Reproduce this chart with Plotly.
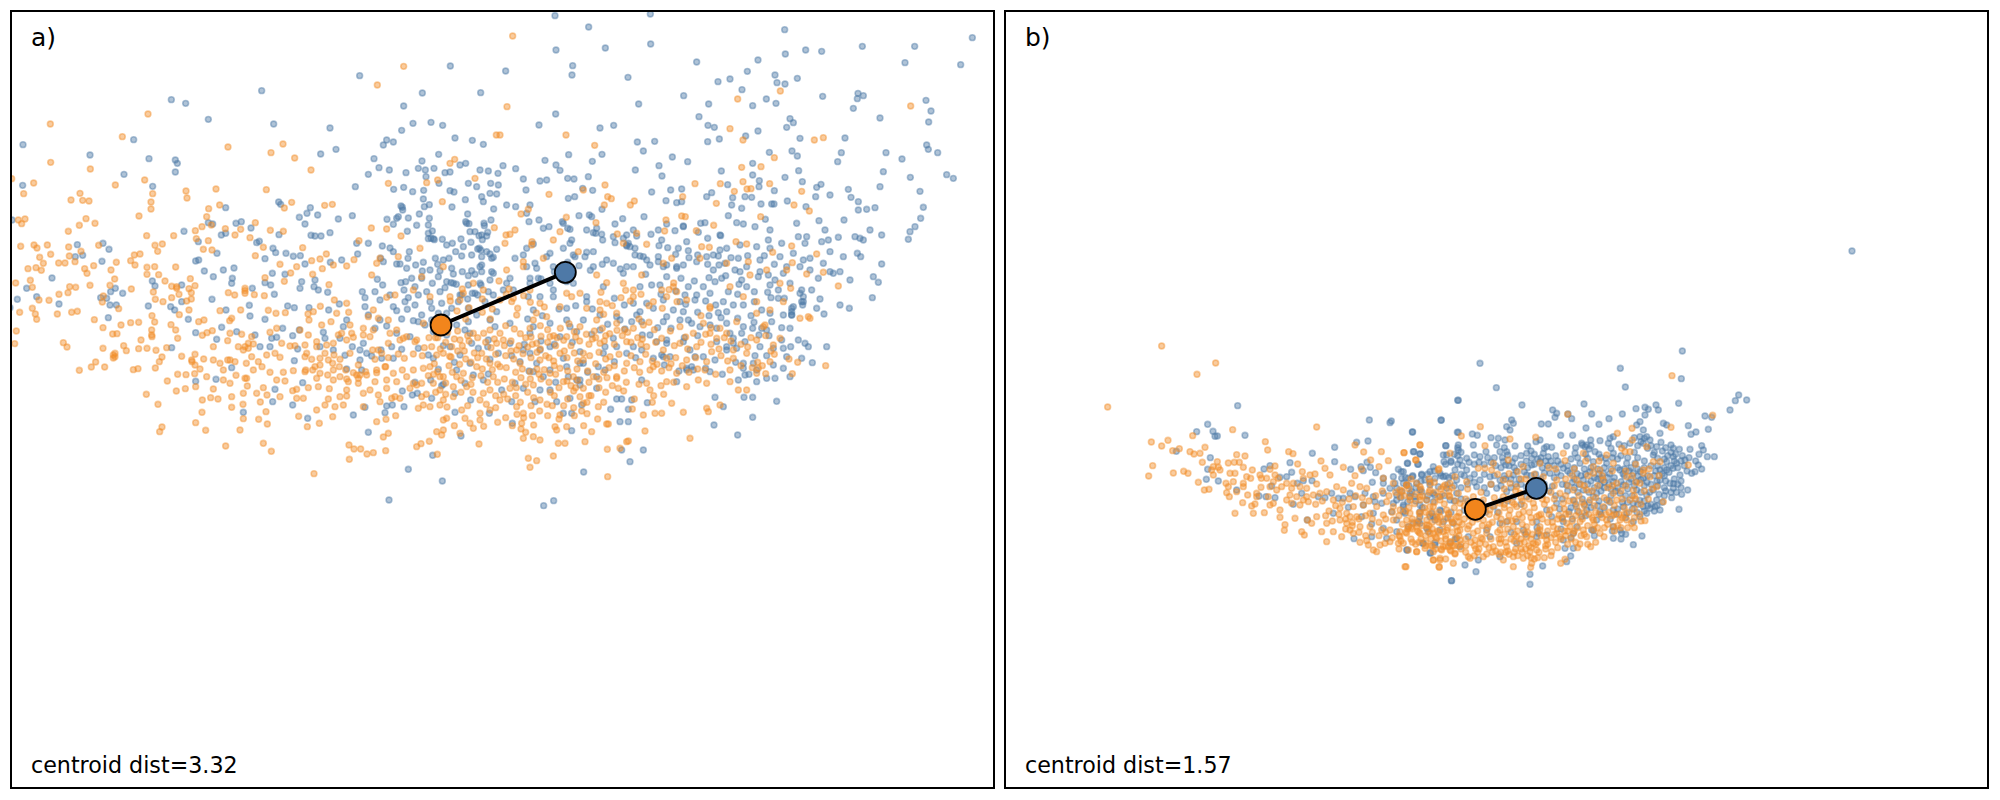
import plotly.graph_objects as go

panel_labels = ["a)", "b)"]
dist_labels = ["centroid dist=3.32", "centroid dist=1.57"]

a_orange = [(1211,199),(1132,255),(444,342),(151,372),(367,410),(684,441),(849,432),(813,458),(884,474),(933,510),(152,487),(271,507),(35,536),(101,549),(346,555),(434,540),(71,581),(240,580),(213,600),(248,601),(267,603),(458,581),(453,606),(453,627),(558,573),(561,594),(648,567),(799,569),(875,607),(853,624),(974,616),(997,613),(626,626),(659,615),(417,648),(258,656),(285,670),(238,676),(55,660),(75,657),(65,671),(205,694),(440,707),(521,707),(620,650),(606,680),(634,675),(586,692),(676,686),(722,688),(705,705),(766,668),(811,691),(850,694),(750,713),(589,716),(625,722),(610,748),(636,750),(62,739),(102,735),(111,744),(142,735),(206,741),(296,736),(465,736),(487,732),(473,754),(243,754),(152,763),(119,772),(130,790),(176,789),(195,789),(225,785),(208,768),(403,765),(420,762),(392,782),(405,795),(84,806),(108,803),(124,811),(254,806),(261,820),(281,797),(333,810),(349,787),(441,802),(464,800),(441,823),(527,801),(476,824),(495,843),(344,837),(330,856),(91,841),(47,849),(97,862),(209,860),(227,862),(270,856),(394,867),(515,859),(530,860),(571,836),(585,857),(567,866),(460,876),(537,883),(574,878),(177,883),(204,878),(117,900),(147,901),(310,888),(307,906),(466,898),(489,905),(515,893),(560,903),(574,897),(685,878),(704,885),(735,872),(763,884),(793,887),(840,793),(890,800),(908,743),(935,782),(960,777),(979,762),(967,806),(790,742),(766,767),(795,833),(853,844),(872,819),(938,823),(987,854),(1000,795),(1040,798),(1062,779),(1077,722),(1114,684),(1160,687),(1203,708),(1165,550),(1280,548),(1313,540),(1327,605),(1350,490),(1364,478),(1425,535),(1489,405),(1483,683),
(97,925),(106,942),(110,958),(59,937),(172,942),(215,937),(232,934),(283,959),(356,926),(456,947),(464,966),(538,944),(567,930),(612,960),(596,965),(660,932),(722,930),(695,955),(689,962),(805,931),(828,940),(856,938),(924,942),(927,960),(961,919),(1003,900),(1040,910),(1046,937),(1010,940),(1120,930),(1160,892),(1185,885),(49,993),(44,1031),(309,983),(363,975),(392,968),(416,967),(338,1002),(351,1001),(455,990),(456,1010),(513,974),(527,990),(533,1015),(607,1006),(621,998),(637,992),(690,1000),(725,1003),(755,1010),(830,985),(810,997),(900,990),(925,1005),(965,975),(993,965),(1050,975),(1090,985),(1135,955),(1190,990),(1210,1015),(1245,1025),
(190,1028),(201,1041),(309,1045),(371,1037),(379,1052),(423,1020),(416,1046),(441,1045),(468,1051),(500,1043),(345,1060),(340,1074),(287,1086),(274,1101),(314,1101),(238,1111),(400,1109),(414,1106),(466,1104),(486,1071),(478,1085),(545,1069),(585,1063),(576,1085),(611,1077),(600,1107),(584,1121),(533,1123),(558,1124),(502,1143),(529,1173),(556,1166),(587,1160),(439,1183),(474,1213),(607,1200),(640,1167),(654,1197),(632,1193),(587,1268),(617,1291),(606,1237),(479,1295),(486,1281),(695,1222),(729,1213),(730,1256),(720,1290),(677,1338),(790,1330),(814,1354),(942,1421),(1048,1378),(1047,1335),(1062,1347),(1082,1347),(1101,1362),(1120,1358),(1157,1352),(1250,1340),(1263,1331),(1288,1324),(1312,1363),(1158,1258),(1130,1265),(1165,1300),(1150,1311),(1187,1247),(1005,1220),(998,1250),(958,1270),(922,1280),(896,1249),(802,1272),(776,1258),(798,1235),(781,1206),(801,1185),(790,1163),(810,1117),(786,1100),(760,1110),(739,1090),(683,1022),(640,1040),(715,1040),(745,1045),(760,1032),(683,1080),(705,1085),(670,1110),(708,1126),(735,1135),(742,1158),(730,1180),(695,1190),(670,1140),(840,1072),(800,1065),(755,1070),(845,1030),(870,1038),(850,1117),(880,1112),(917,1110),(938,1110),(950,1135),(830,1140),(855,1143),(890,1168),(878,1172),(925,1163),(890,1195),(975,1215),(985,1197),(1020,1190),(1040,1188),(988,1166),(1000,1140),(1045,1145),(1040,1170),(1075,1150),(1090,1180),(1125,1145),(1100,1125),(1080,1125),(1130,1110),(1155,1100),(1180,1120),(1207,1110),(1190,1145),(1135,1185),(1140,1205),(1175,1195),(915,1070),(935,1078),(960,1075),(985,1080),(1020,1078),(1050,1060),(1075,1095),(960,1095),(960,1120),(920,1060),(950,1040),(1000,1030),(1040,1020),(1060,1012),(1110,1010),(1165,1030),(1145,1060),(1118,1050),(1213,1075),(1240,1110),(1270,1105),(1290,1100),(1330,1130),(1370,1130),(1390,1120),(1430,1100),(1470,1090),(1450,1180),(1470,1170),(1440,1200),(1440,1240),(1470,1230),(1410,1270),(1420,1285),(1380,1300),(1437,1332),(1330,1290),(1325,1305),(1310,1295),(1330,1260),(1340,1255),(1290,1220),(1270,1215),(1255,1225),(1330,1200),(1360,1190),(1385,1230),(1360,1160),(1320,1170),(1300,1150),(1265,1150),(1240,1150),(1320,1130),(1400,1160),(1480,1130),(1500,1100),(1295,1040),(1310,1065),(1330,1060),(1355,1040),(1380,1020),(1420,1000),(1445,1060),(1470,990),(1490,1030),(1270,970),(1250,1020),(1200,1020),(1220,1010),(1380,900),(1350,890),(1390,880),(1420,850),(1450,870),(1265,830),(1240,870),(1290,890),(1330,800),(1260,745),(1195,770),(1140,775),(1130,790),(1115,825),
(1538,108),(1521,320),(1698,405),(1784,436),(1500,405),(2213,297),(2341,273),(2190,386),(2229,420),(2443,420),(2470,413),(2732,318),(2323,473),(2225,502),(2283,500),(2085,551),(2161,551),(2229,545),(2309,551),(2241,567),(2253,566),(2405,574),(2203,574),(1815,555),(1750,570),(1647,583),(1823,590),(1834,596),(2048,590),(1813,615),(1891,615),(1903,603),(2149,610),(1563,642),(1585,628),(2382,615),(2428,633),(1699,652),(1788,668),(1998,660),(2045,648),(2056,650),(2282,650),(2141,676),(2089,692),(1994,693),(1910,700),(1852,702),(1680,695),(1545,690),(1530,703),(1518,705),(1660,720),(1596,725),(1595,735),(1515,730),(1870,730),(1940,733),(2105,740),(2128,742),(2208,725),(2240,732),(2375,738),(2318,757),(2450,762),(2377,788),(2245,785),(2180,790),(2100,775),(2015,775),(1990,790),(1735,755),(1630,775),(1570,785),(1570,800),(1520,810),(1790,825),(1820,848),(1870,850),(1900,870),(1925,825),(2020,860),(1985,870),(2360,810),(2420,822),(2470,817),(2515,858),(2250,825),(2300,810),(2190,860),(2230,890),(2270,905),(2340,850),(2372,865),(2350,905),(1700,880),(1715,890),(1740,880),(1800,905),(1820,910),(1900,890),(1960,905),(2000,890),(2030,875),(1590,870),(1500,900),(1540,895),(1535,905),(1620,910),(1680,920),(1760,925),(1800,930),(1850,940),(2060,900),(2130,920),(2130,925),(2270,940),(2310,930),(2400,955),(2430,955),(2425,950),(2110,970),(2160,985),(2210,965),(2290,980),(2295,975),(2150,1015),(2180,1000),(1550,945),(1600,960),(1640,950),(1590,985),(1650,1010),(1700,1010),(1740,980),(1790,960),(1850,970),(1900,985),(1930,975),(1985,1015),(2040,980),(2080,1000),(2130,1000),(1500,1000),(1510,1020),(1550,1050),(1610,1030),(1680,1060),(1750,1060),(1800,1030),(1880,1025),(1940,1040),(1990,1050),(2040,1030),(2090,1040),(2135,1055),(2200,1050),(2270,1020),(2320,1035),(2340,1015),(1560,1090),(1620,1080),(1680,1105),(1750,1080),(1830,1070),(1880,1090),(1920,1085),(2000,1075),(2060,1080),(2120,1085),(2200,1075),(2240,1060),(2310,1085),(1590,1115),(1650,1120),(1720,1130),(1780,1130),(1850,1130),(1950,1110),(1960,1100),(2030,1120),(2115,1110),(2190,1110),(2190,1145),(2270,1120),(2275,1105),(1530,1165),(1600,1155),(1690,1145),(1750,1165),(1850,1135),(1855,1165),(1940,1150),(1950,1170),(2060,1160),(2120,1150),(2095,1140),(2000,1145),(2215,1170),(2240,1170),(1500,1200),(1550,1220),(1570,1240),(1620,1200),(1680,1245),(1750,1210),(1740,1190),(1795,1220),(1930,1245),(1965,1240),(1985,1240),(2015,1210),(2050,1237),(2125,1235),(2160,1215),(2120,1225),(1565,1270),(1670,1290),(1665,1280),(1700,1280),(1775,1295),(1820,1272),(1825,1272),(1935,1293),(1570,1315),(1600,1310),(1620,1320),(1675,1330),(1695,1330),(1755,1325),(1880,1325),(2070,1315),(1822,1348),(1860,1345),(1885,1323),(1585,1375),(1610,1382),(1660,1368),(1590,1402),(1823,1430)]

a_orange_core = [(1307,1013),(1337,1027),(1363,1017),(1387,1037),(1407,1023),(1433,1013),(1457,1027),(1483,1017),(1273,1043),(1321,1047),(1349,1069),(1373,1053),(1397,1077),(1423,1059),(1459,1077),(1487,1063),(1267,1067),(1303,1091),(1347,1097),(1379,1093),(1413,1087),(1447,1107),(1477,1109),(1285,1127),(1313,1115),(1357,1117),(1383,1141),(1417,1133),(1443,1127),(1463,1147),(1493,1147),(1279,1183),(1307,1177),(1337,1183),(1383,1177),(1419,1177),(1487,1187),(1341,1221),(1403,1217),(1459,1213),(1487,1223),(1493,1267),(1451,1279),(1363,1277),
(1513,1037),(1533,1023),(1557,1037),(1577,1013),(1597,1033),(1623,1009),(1643,1027),(1667,1037),(1691,1021),(1713,1037),(1739,1023),(1767,1033),(1787,1013),(1813,1023),(1843,1033),(1867,1007),(1893,1027),(1913,1013),(1517,1067),(1541,1077),(1569,1061),(1593,1073),(1611,1057),(1637,1067),(1661,1083),(1701,1073),(1723,1059),(1769,1067),(1797,1057),(1817,1077),(1857,1063),(1893,1067),(1937,1063),(1971,1093),(2013,1091),(2047,1097),(2087,1073),(1519,1103),(1547,1117),(1567,1107),(1611,1107),(1633,1109),(1663,1097),(1703,1113),(1731,1107),(1763,1113),(1811,1117),(1827,1103),(1873,1113),(1919,1117),(1985,1113),(2007,1103),(2067,1117),(2093,1107),(2147,1123),(1513,1137),(1537,1147),(1563,1133),(1577,1153),(1623,1137),(1647,1147),(1667,1123),(1713,1157),(1733,1141),(1767,1147),(1797,1137),(1837,1157),(1879,1147),(1917,1153),(1983,1157),(2021,1147),(1511,1183),(1547,1187),(1583,1177),(1601,1193),(1651,1177),(1663,1187),(1703,1197),(1721,1173),(1761,1207),(1773,1187),(1817,1177),(1871,1173),(1903,1197),(1961,1187),(1991,1183),(1551,1243),(1571,1253),(1597,1247),(1641,1213),(1657,1217),(1721,1223),(1745,1233),(1761,1241),(1793,1257),(1677,1257),(1563,1287),(1577,1297),
(1517,977),(1543,987),(1561,1001),(1593,1011),(1621,977),(1643,989),(1661,1007),(1681,985),(1707,971),(1723,995),(1759,1003),(1783,993),(1807,985),(1829,1001),(1851,991),(1873,989),(1917,957),(1947,967),(1963,989),(2011,993),(2057,1011),(1811,943),(1837,917),(1863,893),(1877,871),(1891,903),(1803,877),(2007,869),(2021,849),(1923,883),(1947,917),(1987,925),(2031,905),(2103,947),(2133,983),(2193,1023),(2243,1041),(2273,1087),(2297,1121),(2323,1063),(2377,1121),(2477,1097),(1553,925),(1571,887),(1591,907),(1609,939),(1633,921),(1527,867),(1497,843),(1519,883),(1471,957),(1447,937),(1397,957),(1371,933),(1407,923),(1351,903),(1387,867),(1447,897),(1477,927),
(1002,1065),(1037,1110),(1070,1125),(1097,1115),(1130,1118),(1157,1100),(1040,1137),(1075,1135),(1018,1100),(998,1090),(1160,1140),(1185,1190),(1250,1155),(1220,1130),(950,1025),(980,1035),(1015,1005),(1055,1000),(1090,1005),(1105,950),(1165,960),(940,935),(1025,1000),(1135,1050),(975,1060),(945,1100),(915,1115),(735,1040),(745,1030),(730,1050),(740,1135),(690,1080),(575,1080),(585,1095),(530,865),(735,880),(735,865),(345,1070),(340,1065),(455,1005),
(2133,1033),(2157,1047),(2173,1013),(2223,1033),(2253,1013),(2297,1007),(2313,1053),(2367,1077),(2393,1087),(2163,1067),(2183,1083),(2223,1097),(2257,1103),(2287,1097),(2103,1027),(2117,1003),(2063,1047),(2023,1037),(1967,1027),(1927,1017),(1923,1033),(1883,997),(1817,1007),(1777,1017),(1727,1011),(1671,1013),(1621,1047),(1583,1041),(1533,1053),(1647,1073),(1693,1053),(1733,1083),(1787,1091),(1843,1097),(1903,1103),(1957,1083),(2027,1073),(1591,1137),(1617,1123),(1701,1143),(1677,1163),(1727,1163),(1797,1163),(1821,1133),(1767,1187),(1691,1217),(1619,1233),(1593,1217),(1549,1163),(1561,1207),(1523,1197),(1517,1253),(1537,1277),(1601,1275),(1643,1247),(1723,1247),(1751,1277),(1811,1207),(1897,1227),(1957,1207),
(1313,1013),(1343,997),(1373,993),(1403,1007),(1451,1000),(1301,1123),(1337,1149),(1413,1153),(1493,1093),(1353,1071),(1433,1073),(1473,1043),(1393,1053),(1287,1013),(1240,1062),(1195,1062),(1165,1073),(1125,1078),(1060,1118),(1020,1130),(1000,1110),(983,1125),(955,1160),(1110,1170),(1160,1165),(1230,1165),(1120,990),(1170,1000),(915,1035),(885,1037),(825,1060),(775,1085),(660,1090),(640,1080),(620,1130),(690,1150),(770,1180),(840,1190),(910,1195),(950,1230),(1030,1215),(1090,1220),(1200,1195),(1265,1190),(1320,1215),(1395,1255),(1440,1260)]

a_blue = [(1079,227),(1351,198),(785,272),(1267,279),(1442,278),(514,299),(557,310),(1211,318),(625,358),(821,372),(1239,370),(1293,367),(1328,376),(990,384),(1205,391),(401,419),(1365,414),(1417,421),(1450,433),(1160,420),(1180,426),(1150,435),(69,434),(270,465),(447,476),(526,480),(532,490),(962,462),(1008,448),(1122,476),(1266,483),(1316,463),(1137,503),(1105,523),(526,516),(372,523),(1168,510),(1218,518),(1255,505),(1276,510),(1302,505),(1335,518),(1350,516),(1380,495),(1397,490),(1440,510),(1465,513),(1494,520),(1278,530),(1405,550),(68,556),(458,559),(1066,560),(1181,568),(1211,562),(1238,575),(1271,571),(1317,550),(1472,550),(1350,572),(1362,576),(1430,560),(1495,555),(1270,597),(1288,614),(1273,620),(1396,599),(1445,590),(1470,580),(1490,582),(836,606),(842,613),(677,623),(931,623),(1203,618),(1208,630),(1356,621),(1450,605),(1481,627),(898,652),(921,640),(953,645),(1015,657),(1057,647),(1161,658),(1190,655),(1225,654),(1258,642),(1288,655),(1403,642),(625,668),(638,672),(708,670),(724,665),(915,672),(1250,676),(1285,675),(1400,670),(1452,670),(1473,660),(36,660),(753,684),(552,694),(677,700),(664,705),(837,704),(933,706),(945,708),(963,708),(990,698),(1180,673),(1222,694),(1297,693),(1410,695),(1425,695),(1445,705),(1460,708),(595,725),(770,728),(778,724),(309,730),(232,734),(1285,716),(1300,716),(1327,718),(1340,735),(1357,730),(1070,730),(1105,730),(1147,738),(1170,744),(1180,755),(1228,755),(1390,740),(1438,745),(1460,755),(1490,748),(327,748),(819,745),(827,758),(858,760),(880,769),(901,767),(651,760),(596,780),(587,783),(248,766),(226,770),(306,784),(795,776),(1025,780),(1073,762),(1224,775),(1142,775),(1150,785),(1190,792),(1200,792),(1270,787),(1306,775),(1330,780),(1385,768),(1415,765),(1445,770),(1470,762),(1480,772),(915,792),(991,787),(613,813),(670,810),(702,804),(817,820),(855,823),(1220,805),(1290,810),(1320,812),(1360,822),(1440,800),(1480,820),(1445,815),(156,834),(640,830),(697,835),(695,850),(457,843),(465,858),(545,855),(795,848),(812,855),(905,845),(945,840),(942,860),(1132,838),(1148,855),(1203,848),(1217,845),(1297,850),(1340,845),(1360,850),(1405,855),(1440,850),(1470,840),(80,865),(346,865),(332,875),(368,880),(757,865),(900,865),(955,870),(983,877),(1087,875),(1212,870),(1320,875),(1380,885),(1425,880),(1280,875),(110,890),(52,898),(302,893),(320,895),(636,898),(545,905),(823,883),(1095,893),(1140,900),(1225,893),(1245,915),(1290,905),(1325,910),(1355,925),(177,912),(445,918),(330,915),(349,915),(512,920),(524,930),(748,916),(863,918),(883,923),(927,923),(1018,912),(1180,920),(1190,932),(1222,928),(1295,925),(1315,940),(30,923),(678,930),(986,930),(1105,945),(1140,960),(750,948),(325,953),(565,958),(795,958),(1040,960),(1160,978),(1205,957),(1240,962),(1255,965),(1275,975),(665,982),(587,998),(848,985),(710,995),(898,990),(970,997),(1030,980),(1125,985),(1190,1000),(1300,995),(1340,1005),(1410,1000),(1485,980),(650,1018),(765,1005),(815,1015),(830,1012),(878,1007),(975,1015),(1020,1015),(1090,1030),(1415,1030),(893,1047),(810,1040),(780,1040),(515,1043),(1035,1066),(1080,1050),(1115,1068),(1143,1050),(1145,1075),(1205,1048),(1180,1075),(1435,1045),(1463,1040),(883,1082),(695,1103),(1040,1107),(1080,1080),(1085,1110),(1315,1108),(1300,1075),(1470,1078),(1420,1125),(1465,1122),(648,1138),(587,1144),(908,1148),(1245,1147),(1292,1140),(1325,1157),(825,1168),(1207,1173),(1237,1185),(1252,1180),(1295,1195),(1365,1180),(1412,1200),(818,1205),(878,1215),(1160,1218),(1177,1215),(1212,1220),(1095,1222),(730,1237),(923,1255),(1060,1245),(1155,1238),(1365,1237),(1468,1240),(1105,1297),(1383,1308),(1298,1366),(1225,1408),(1327,1443),(1167,1500),
(1665,47),(1951,42),(1766,81),(2354,89),(1668,150),(1816,144),(1952,132),(2356,162),(2417,150),(2465,154),(2587,139),(2744,139),(2917,113),(2274,180),(2090,186),(1718,197),(1517,213),(1716,225),(1884,232),(2242,214),(2325,225),(2154,245),(2190,237),(2331,248),(2355,252),(2392,235),(2715,188),(2882,194),(2226,269),(2051,287),(2468,289),(2574,280),(2590,287),(2572,296),(2778,301),(2299,297),(1916,312),(2126,312),(2258,317),(2328,310),(2560,325),(2793,333),(1667,342),(2097,350),(2640,354),(2786,366),(2370,356),(2380,368),(2360,382),(1617,375),(1800,384),(1841,376),(2124,376),(2143,382),(2274,393),(2237,408),(2400,415),(2535,414),(1912,426),(1964,424),(2158,417),(2123,425),(1930,453),(1706,464),(1806,463),(2780,435),(2785,448),(2813,458),(2658,458),(2524,458),(2017,471),(2063,485),(1635,481),(1777,484),(2308,457),(2376,453),(2392,468),(2706,477),(1509,497),(1547,506),(1668,495),(1680,511),(1906,510),(1977,497),(2164,513),(2258,490),(2513,485),(2650,515),(2258,525),(2396,512),(2731,532),(1986,528),(2278,542),(1570,537),(1620,543),(1640,540),(1703,535),(1722,537),(1765,530),(2355,532),(2407,545),(2463,553),(2840,524),(2860,535),(1578,570),(2183,554),(2277,560),(2450,562),(1748,565),(1778,571),(1955,576),(2012,570),(2323,572),(2545,568),(2640,560),(1705,595),(1724,590),(2045,567),(2760,574),(2490,585),(1998,602),(2030,608),(2045,605),(2120,590),(2135,578),(2198,593),(2235,590),(2255,592),(2283,612),(2362,603),(2447,590),(2553,592),(2575,605),(2600,628),(1520,615),(1547,620),(1590,615),(2225,625),(2195,615),(2322,612),(2418,620),(2770,622),(2315,612),(1806,628),(1768,645),(2625,623),(2575,630),(1687,665),(1737,647),(1775,650),(1868,656),(1932,650),(2000,672),(2115,668),(2185,647),(2296,658),(2457,662),(2532,660),(2762,655),(2050,678),(2102,670),(2210,668),(2230,672),(2390,670),(1630,685),(1703,685),(1790,685),(1845,672),(1900,690),(1975,690),(2025,692),(2050,680),(2095,697),(2160,705),(2265,680),(2310,690),(2475,690),(2610,690),(2645,705),(2745,680),(2730,695),(1780,698),(1880,705),(1985,720),(2123,715),(2162,707),(2305,720),(2420,710),(2395,710),(2515,712),(2725,718),(1580,745),(1600,732),(1710,730),(1808,720),(1845,728),(1880,738),(2060,725),(2415,730),(2465,725),(2485,720),(2565,710),(2580,715),(2590,720),(1890,740),(2345,730),(1650,760),(1760,757),(1905,745),(2035,745),(2065,752),(2140,765),(2180,745),(2220,735),(2270,740),(2310,745),(2490,755),(2572,760),(2582,770),(1570,765),(1640,770),(1720,765),(1930,770),(1975,770),(2120,770),(2155,768),(2410,780),(2430,775),(1610,805),(1680,815),(2000,795),(2530,770),(2470,790),(2645,792),(1780,800),(2220,815),(2360,800),(2090,785),(2140,810),(2030,800),(2500,820),(2520,815),(2620,830),(2635,847),(1530,835),(1590,835),(1870,820),(2205,810),(2165,835),(2280,815),(2455,835),(2490,815),(2550,840),(1920,860),(1980,855),(2130,880),(2000,830),(2065,860),(2240,860),(2310,855),(2370,850),(2405,870),(2435,870),(2460,897),(2617,893),(1720,850),(1650,850),(1510,870),(1585,890),(1660,890),(1900,910),(1990,900),(2040,905),(2090,885),(2170,905),(2200,915),(2335,895),(2408,915),(2520,915),(2548,925),(2450,925),(2472,942),(2410,905),(2380,920),(2350,945),(2230,915),(2180,935),(2155,938),(1600,930),(1700,925),(1760,905),(1800,945),(1920,935),(2050,935),(2040,960),(2285,930),(2310,940),(2375,945),(2370,985),(2262,967),(2180,970),(2230,980),(2315,965),(1530,970),(1710,980),(1850,950),(1925,965),(1990,965),(2065,960),(2130,975),(2258,985),(2300,990),(2345,1020),(2395,1020),(2415,1030),(2425,1040),(2480,1040),(2372,1040),(2350,1045),(1590,1000),(1680,1010),(1730,995),(1840,1015),(1950,1005),(2000,1020),(2050,1025),(2150,1025),(2200,1015),(2235,1025),(2320,1045),(2405,1075),(2437,1088),(2360,1070),(2300,1067),(2265,1067),(1620,1050),(1740,1055),(1815,1040),(1880,1060),(1990,1070),(2070,1050),(2180,1050),(2210,1045),(2280,1040),(2230,1090),(2260,1090),(1560,1085),(1690,1075),(1740,1090),(1795,1100),(1960,1075),(2130,1115),(2060,1105),(2230,1105),(2320,1095),(2350,1105),(2370,1130),(2325,1135),(2300,1135),(2270,1110),(2270,1145),(1630,1130),(1705,1130),(1740,1140),(1925,1140),(2030,1145),(2080,1110),(2235,1125),(2215,1140),(1570,1165),(1650,1170),(1790,1165),(1850,1197),(1865,1197),(1895,1200),(2145,1192),(2232,1192),(2258,1192),(2330,1204),(1605,1205),(1670,1205),(1942,1208),(2170,1220),(2258,1252),(1832,1228),(1885,1228),(1537,1270),(1860,1265),(1885,1265),(2142,1275),(2213,1305),(1715,1240),(1715,1292),(1865,1350),(1930,1350),(1890,1385),(1751,1416),(1661,1502),(1631,1517)]

a_blue_core = [(1453,677),(1437,707),(1463,697),(1447,719),(1397,665),(1407,671),(1433,747),(1443,751),(1207,622),(1195,650),(1285,700),(1293,715),(1303,719),(1415,812),(1445,795),(1475,815),(1475,775),(1353,848),(1369,853),(1417,880),(1433,885),(1385,885),(1425,823),(1405,827),(1315,830),(1235,835),(1265,835),(1245,860),(1215,905),(1255,885),(1265,945),(1295,960),(1340,940),(1405,925),(1455,905),(1480,885),(1430,945),(1470,960),(1490,935),(1370,975),(1395,990),(1350,1040),(1380,1065),(1465,1020),(1495,1060),(1410,1090),(1450,1140),(1370,1110),
(1580,640),(1587,665),(1617,660),(1647,680),(1690,670),(1710,688),(1760,690),(1787,700),(1805,703),(1840,710),(1870,715),(1885,730),(1910,708),(1880,735),(1905,765),(1920,768),(1940,780),(1975,785),(1950,795),(1990,800),(2030,805),(2050,795),(2160,750),(2175,790),(2215,775),(2240,800),(2280,780),(2340,770),(2380,760),(2350,820),(2325,840),(2335,870),(2400,800),(2430,810),(2400,880),(2405,905),(2410,890),(2375,925),(2375,945),(2375,935),(2305,825),(2275,830),(2225,840),(2145,845),(2185,875),(2110,860),(2085,900),(2055,885),(2020,930),(2000,950),(1960,925),(1940,910),(1910,945),(1895,965),(2075,970),(2100,980),(2150,985),(2190,1000),(2225,1000),(2285,985),(2180,1040),(2200,1030),(2145,1080),(2110,1070),(2085,1070),(2010,1070),(1985,1065),(2060,1110),(2075,1100),(2000,1030),(1970,1025),(1925,1050),(1900,1040),(1850,1040),(1810,1060),(1750,1090),(1700,1100),(1650,1110),(1610,1090),(1570,1050),(1530,1030),(1590,1060),(1650,1040),(1600,980),(1650,970),(1700,960),(1750,960),(1800,990),(1860,960),(1620,890),(1660,870),(1700,845),(1760,890),(1810,860),(1520,850),(1540,870),(1590,850),(1615,835),(1580,800),(1605,790),(1545,775),(1660,800),(1690,745),(1715,720),(1725,770),(1755,770),(1780,755),(1820,780),(1840,790),(1880,800),(1900,800),(1730,1140),(1740,1155),(1710,1195),(1745,1215),(1690,1240),(1600,1115),(1545,1150),(1505,1170),(1535,1205),(1620,1170),(1790,1130),(1815,1110),
(1953,703),(1977,737),(2003,743),(2027,763),(2067,773),(2093,765),(2123,793),(2157,795),(2193,773),(2243,767),(2293,767),(2323,793),(2303,877),(2263,875),(2213,883),(2147,915),(2117,903),(2093,937),(2057,913),(2027,873),(1983,883),(1955,855),(1937,823),(2043,835),(2083,843),(2127,833),(2177,827),(2217,853),(2263,905),(2313,893),(2353,895),(2345,983),(2307,1007),(2277,1005),(2253,947),(2213,955),(2163,953),(2127,947),(2093,1007),(2053,1013),(2013,985),(1973,983),(1927,1005),(1875,987),(1823,973),(1775,1003),(1717,1027),(1663,1033),(1623,1023),(1573,1033),(1535,1067),(1587,1113),(1667,1147),(1763,1117),(1843,1085),(1907,1073),(1993,1095),(2037,1113),(2117,1105),(2167,1123),(2207,1087),(2247,1123),(1583,957),(1627,947),(1677,927),(1727,917),(1777,927),(1843,895),(1873,915),(1623,837),(1663,815),(1703,787),(1737,797),(1771,811),(1807,793),(1861,807),
(1383,717),(1413,727),(1367,755),(1347,775),(1313,793),(1267,813),(1247,795),(1387,815),(1355,805),(1335,863),(1375,905),(1403,897),(1443,855),(1465,875),(1405,965),(1310,1000),(1330,1037),(1363,1087),(1330,1153),(1395,1150),(1285,1065),(1255,1045),(1230,1010),(1175,1040),(1100,1060),(1057,1040),(1000,1050),(960,1040),(1095,920),(1125,875),(1170,885)]

b_orange_left = [(185,348),(347,399),(291,433),(23,531),(650,591),(398,599),(278,617),(154,636),(185,648),(204,631),(218,662),(238,656),(270,665),(282,672),(300,670),(315,652),(496,635),(503,660),(566,665),(579,671),(765,645),(791,666),(844,665),(912,668),(960,645),(158,707),(146,738),(220,729),(251,724),(264,730),(307,697),(295,757),(313,780),(327,778),(340,735),(340,710),(352,695),(355,712),(385,699),(403,697),(418,697),(410,674),(435,678),(390,730),(405,730),(430,712),(457,720),(452,745),(480,735),(484,745),(378,760),(385,770),(430,760),(430,770),(410,785),(380,788),(388,800),(443,795),(428,818),(465,822),(455,828),(470,790),(483,772),(510,770),(505,800),(525,708),(510,718),(525,735),(535,745),(560,760),(545,770),(530,780),(593,702),(607,725),(630,735),(645,732),(663,693),(675,715),(690,735),(730,712),(765,737),(785,718),(812,690),(837,710),(865,692),(948,690),(1017,716),(600,770),(620,775),(650,762),(570,795),(590,800),(610,810),(640,795),(660,790),(680,785),(710,770),(730,780),(755,760),(780,770),(800,775),(850,745),(880,760),(920,765),(960,770),(990,760),(1030,770),(1050,760),(460,850),(405,850),(493,848),(510,825),(540,840),(540,862),(585,865),(555,884),(553,901),(605,905),(613,915),(622,870),(650,860),(635,880),(575,820),(600,825),(625,815),(665,905),(680,935),(680,880),(700,905),(725,920),(750,900),(760,910),(700,810),(720,835),(740,850),(760,830),(770,860),(790,825),(810,850),(830,830),(860,815),(880,830),(900,800),(930,800),(960,810),(990,830),(1020,810),(1050,800),(1075,790),(805,945),(820,960),(830,965),(855,940),(845,900),(870,900),(810,890),(780,890),(895,940),(900,905),(925,890),(950,880),(950,965),(925,960),(980,885),(990,910),(1010,925),(1030,905),(1050,935),(1070,890),(1000,990),(1020,985),(1017,1010),(918,1010),(1025,960),(1065,970),(1080,930),(1050,960),(720,870),(740,880),(750,860),(850,855),(880,870),(930,850),(960,850),(1010,860),(1045,850),(1075,860),
(647,823),(667,813),(687,843),(707,827),(727,817),(747,807),(767,797),(787,803),(807,813),(827,797),(847,783),(867,797),(887,787),(907,783),(927,777),(947,793),(967,797),(987,787),(1007,787),(1027,793),(1047,783),(1067,813),(677,857),(697,873),(717,853),(737,867),(757,877),(777,867),(797,857),(817,867),(837,877),(857,867),(877,847),(897,857),(917,843),(937,867),(957,867),(977,847),(997,847),(1017,877),(1037,867),(1057,877),(1077,877),(737,897),(757,887),(777,907),(797,917),(817,907),(837,917),(857,907),(877,923),(897,917),(917,907),(937,897),(957,907),(977,917),(997,897),(1017,907),(1037,917),(1057,907),(1077,917),(897,957),(937,937),(957,937),(977,947),(997,947),(1007,957),(1037,947),(1057,947),(1075,947),(1037,987),(1060,1000),(1000,965),(780,937),(800,932),(840,945),(870,935),(560,810),(520,820),(470,800),(620,800),(580,760),(610,745),(575,775),(520,755),(500,745),(440,740),(400,755),(360,720),(335,720)]
b_orange_right = [(60,345),(12,368),(47,390),(241,290),(184,318),(330,327),(407,322),(503,253),(816,137),(938,256),(813,292),(696,295),(652,310),(697,330),(665,355),(690,365),(620,375),(550,370),(490,370),(495,392),(255,347),(325,390),(280,400),(370,410),(420,400),(255,415),(235,415),(275,420),(200,455),(150,370),(115,420),(135,465),(50,460),(20,465),(0,480),(90,480),(165,440),(330,460),(350,470),(310,450),(430,440),(580,410),(600,420),(640,400),(675,365),(730,420),(760,395),(740,350),(780,395),(865,405),(790,515),(730,430),(770,470),(700,480),(640,490),(580,430),(530,450),(480,490),(440,510),(400,520),(360,490),(310,500),(270,540),(230,540),(180,520),(140,540),(100,530),(60,500),(30,510),(0,540),(20,570),(50,590),(80,570),(120,560),(170,560),(210,560),(250,570),(290,560),(330,540),(370,545),(410,560),(450,540),(490,520),(530,530),(570,510),(610,530),(650,510),(690,510),(735,572),(695,580),(660,570),(620,570),(580,570),(540,575),(500,580),(460,590),(420,590),(380,590),(340,590),(300,600),(260,610),(220,610),(180,600),(140,600),(100,610),(60,610),(20,610),(0,620),(10,640),(50,665),(15,710),(100,690),(120,690),(118,712),(130,650),(145,650),(165,672),(205,680),(210,685),(240,640),(260,672),(250,680),(225,630),(300,640),(310,690),(340,680),(340,710),(370,685),(390,665),(410,660),(395,700),(392,712),(482,700),(495,688),(455,665),(540,642),(572,650),(587,637),(612,620),(600,610),(560,620),(520,610),(480,620),(440,630),(400,640),(360,640),(320,650),(280,650),(350,620),(380,620),(420,600),(470,610),(510,590),(550,600),(580,600),(640,590),(680,570),(115,500),(80,510),(220,500),(350,530),(300,520),(250,510),(470,450),(520,480),(560,480),(610,450),(650,460),(680,440),(750,440),(720,460),
(12,497),(27,533),(43,521),(58,548),(73,533),(88,553),(104,517),(117,547),(133,522),(147,553),(163,533),(178,548),(193,527),(207,551),(223,523),(238,548),(257,531),(268,553),(283,527),(297,548),(313,533),(327,556),(343,523),(357,553),(373,527),(388,547),(403,533),(417,556),(433,523),(447,553),(463,533),(477,556),(493,537),(507,553),(523,513),(537,547),(553,527),(567,553),(583,527),(597,553),(613,503),(627,547),(643,527),(657,553),(673,533),(687,547),(703,537),(719,553),
(7,583),(23,597),(37,577),(53,603),(67,587),(83,597),(97,577),(113,603),(127,583),(143,593),(157,577),(173,603),(187,583),(203,597),(217,577),(233,603),(247,587),(263,593),(277,577),(293,607),(307,583),(323,597),(337,573),(353,603),(367,583),(383,607),(397,577),(413,603),(427,567),(443,603),(457,577),(473,597),(487,567),(503,603),(517,573),(533,593),(547,567),(563,587),(577,563),(593,593),(607,563),(623,583),(637,557),(653,587),(667,563),(683,593),
(3,633),(33,627),(47,643),(63,627),(77,637),(93,627),(107,621),(123,633),(137,627),(153,637),(167,623),(183,643),(197,627),(213,637),(227,657),(243,623),(257,643),(273,627),(287,663),(303,627),(317,667),(333,627),(347,657),(363,627),(377,657),(393,627),(407,643),(423,617),(437,647),(453,623),(467,637),(483,627),(497,617),(513,627),(527,637),(543,617),(153,663),(183,657),(197,667),(223,677),(233,667),(277,667),(297,673),(327,673),(353,677),(367,667),(383,677),(403,687),(417,667),(437,657),
(147,497),(197,507),(243,487),(283,503),(323,507),(367,513),(413,497),(453,487),(497,497),(537,497),(577,483),(623,473),(663,483),(703,497),(745,507),(757,477),(723,523),(607,437),(541,463),(497,447),(417,467),(377,447),(273,463),(203,477),(157,473),(103,457),(63,477),(33,447),(87,447),(123,477),(293,433),(353,425),(447,413),(523,417),(563,437),(637,423),(697,437),(747,417),(777,437),(707,403),
(313,523),(337,517),(363,503),(387,507),(427,507),(463,507),(507,513),(547,517),(587,503),(627,513),(667,507),(707,507),(303,567),(323,573),(347,567),(367,563),(393,563),(423,553),(443,577),(473,567),(497,553),(527,557),(553,547),(587,547),(617,553),(643,553),(673,553),(703,563),(723,573),(313,613),(343,613),(373,607),(397,613),(433,617),(463,613),(493,603),(523,603),(553,613),(583,583),(613,593),(643,603),(663,593),(703,593),(297,627),(317,637),(343,633),(373,637),(387,647),(413,637),(443,643),(473,653),(503,643),(533,653),(563,643),(323,663),(343,667),(363,657),(393,683),(413,683),(433,683),(453,677),(393,653),(303,667),(267,653),(237,657),(197,647),(163,647),(123,657),(93,647),(75,655),(223,647),(247,627),(267,583),(207,587),(233,567),(193,567),(153,567),(113,567),(87,587),(33,593),(313,477),(347,483),(413,483),(463,467),(503,467),(553,467),(593,467),(637,467),(677,467),(707,457),(733,483),(677,423),(597,393),(557,393),(517,437),(467,417),(403,433),(363,447),(327,431)]
b_blue_left = [(413,527),(290,605),(323,583),(339,604),(345,619),(352,618),(435,616),(229,664),(331,683),(323,718),(319,748),(355,753),(1073,511),(808,570),(874,573),(870,578),(1023,571),(937,606),(1072,607),(804,633),(770,637),(704,652),(637,670),(570,698),(510,707),(492,717),(575,727),(704,695),(752,718),(801,697),(783,710),(790,722),(827,728),(811,712),(940,665),(960,672),(953,703),(923,700),(1037,647),(1040,675),(1032,695),(895,718),(910,725),(938,740),(965,735),(990,725),(1037,738),(610,752),(592,760),(636,752),(560,740),(540,742),(515,768),(410,780),(498,800),(477,798),(525,803),(580,823),(675,803),(715,805),(750,790),(817,757),(850,745),(850,760),(880,740),(890,775),(920,765),(990,755),(1040,775),(700,850),(745,832),(790,825),(825,815),(850,790),(890,810),(930,800),(960,780),(1000,790),(1020,800),(850,895),(890,870),(815,882),(960,880),(1000,860),(1020,840),(860,925),(815,920),(762,926),(922,960),(968,940),(990,968),(1005,938),(1054,1052),(622,870),
(1020,730),(1005,745),(975,750),(950,760),(925,745),(905,745),(885,760),(870,775),(890,795),(905,785),(935,785),(945,800),(980,810),(1000,815),(1015,770),(960,825),(910,830),(880,820),(845,820),(820,800),(795,790),(765,800),(730,805),(695,790),(655,800),(605,790),(1005,870),(960,860),(915,850),(875,845),(820,850),(785,860),(985,905),(890,905)]
b_blue_right = [(847,63),(240,100),(661,115),(844,146),(676,171),(289,173),(175,211),(366,225),(552,222),(836,220),(124,270),(458,240),(470,250),(465,262),(504,252),(575,252),(515,266),(627,266),(667,252),(708,236),(735,232),(745,238),(735,255),(768,225),(775,240),(990,240),(1016,195),(1006,212),(1040,210),(915,258),(935,262),(335,270),(340,280),(320,290),(330,300),(424,282),(445,282),(558,294),(597,283),(720,275),(710,285),(790,280),(800,285),(865,287),(925,298),(888,306),(873,313),(38,306),(175,307),(217,312),(232,316),(273,323),(295,325),(315,330),(482,316),(518,316),(420,330),(408,335),(640,320),(630,325),(730,300),(720,320),(740,320),(780,310),(750,330),(600,332),(572,330),(545,340),(138,347),(175,345),(175,360),(220,345),(258,365),(290,345),(345,348),(383,348),(440,350),(455,352),(500,348),(555,350),(560,345),(625,340),(690,340),(730,340),(770,350),(820,355),(905,347),(870,358),(910,360),(838,358),(42,365),(60,372),(130,375),(200,385),(180,390),(240,380),(300,365),(320,365),(345,385),(380,370),(395,385),(430,370),(445,380),(525,370),(585,365),(640,370),(760,375),(800,395),(820,380),(830,400),(855,390),(943,380),(922,380),(22,400),(55,403),(100,410),(165,420),(200,420),(310,395),(395,405),(420,395),(490,415),(540,400),(580,395),(620,400),(680,400),(705,400),(780,420),(800,420),(895,405),(905,417),(885,425),(875,430),(4,425),(38,437),(65,433),(130,440),(170,450),(210,445),(240,450),(270,440),(300,450),(340,435),(450,430),(510,430),(570,425),(610,430),(660,420),(700,430),(840,435),(730,445),(780,450),(810,460),(10,460),(90,465),(230,470),(290,475),(380,435),(500,465),(550,450),(600,465),(640,455),(670,465),(710,455),(760,480),(820,475),(863,480),(843,473),(845,493),(30,490),(65,485),(170,490),(260,490),(320,485),(550,480),(590,490),(660,490),(710,480),(815,503),(740,495),(770,510),(700,520),(620,510),(580,500),(520,510),(470,520),(440,540),(380,500),(10,525),(95,550),(150,510),(60,545),(280,530),(340,500),(560,540),(600,545),(640,540),(670,530),(730,530),(765,530),(780,540),(837,538),(700,575),(665,610),(640,625),(726,618),(700,644),(70,640),(20,660),(92,670),(165,628),(180,650),(105,645),(300,680),(235,690),(195,705),(228,725),(155,752),(428,708),(390,733),(390,763),(500,695),(512,678),(520,655),(495,655),(490,630),(440,615),(410,620),(350,640),(300,580),(130,575),(90,560),(350,575),(410,575),(520,610),(580,600),(545,560),(575,600),(40,580),(10,545),(170,625),(235,560),(270,620),
(137,403),(153,397),(173,403),(187,407),(207,397),(223,403),(237,397),(253,403),(273,397),(287,407),(303,413),(327,407),(343,413),(363,403),(383,413),(403,403),(427,413),(443,407),(463,407),(483,403),(503,407),(523,413),(553,417),(573,413),(593,417),(613,413),(633,417),(653,413),(673,417),(693,413),(713,417),(733,413),(753,407),(773,407),(793,413),(813,407),(833,413),(853,407),
(123,437),(147,443),(157,437),(183,433),(193,437),(223,433),(253,433),(283,437),(313,437),(333,447),(357,447),(393,437),(423,447),(463,443),(483,437),(523,447),(543,437),(583,443),(603,447),(623,443),(643,443),(673,437),(693,447),(713,437),(743,437),(763,437),(793,437),(823,447),
(143,463),(163,467),(183,473),(203,463),(223,457),(253,473),(273,463),(303,467),(333,473),(363,463),(503,483),(523,473),(563,463),(583,473),(613,473),(633,477),(653,473),(683,477),(703,467),(733,467),(753,463),(773,467),(793,473),(813,487),(833,463),
(163,513),(183,507),(203,513),(243,517),(303,513),(323,513),(363,523),(513,533),(533,543),(553,523),(573,533),(593,527),(613,533),(653,537),(683,517),(713,523),(733,513),(753,523),(763,543),(793,497),
(173,353),(163,373),(183,367),(173,377),(153,393),(313,353),(323,375),(393,363),(403,373),(433,355),(423,383),(547,345),(567,357),(733,325),(723,335),(743,355),(763,367),(703,367),(803,377),(793,387),(823,393),(843,393),(813,367),(653,387),(603,383),(563,385),(473,393),(453,393),(283,383),(263,383),(223,375),(103,423),(83,433),(63,453),(47,473),(17,443),(27,467),(3,503),(23,515),(47,513),(83,497),(103,495),(133,497),
(67,533),(123,543),(143,563),(160,580),(120,600),(80,595),(55,575),(25,590),(150,640),(205,620),(260,600),(320,575),(370,600),(415,610),(455,560),(490,575),(530,590),(590,570),(640,590),(680,550),(720,560),(740,550),(660,600),
(307,383),(337,397),(363,377),(379,393),(413,387),(437,393),(467,377),(513,387),(533,383),(557,373),(597,373),(617,385),(637,383),(663,377),(683,383),(713,383),(733,393),(773,385),(787,363),(797,353),(813,345),(827,373),(847,377),(867,383),(887,393),(897,373),(633,355),(657,343),(673,347),(713,347),(753,347),(783,337),(703,323),(527,353),(573,347),(317,405),(349,423),(373,425),(407,433),(433,429),(471,427),(503,423),(531,431),(557,433),(597,431),(629,431),(669,431),(687,423),(721,425),(767,423),(787,431),(807,427),(819,415),(861,423),(317,447),(347,463),(379,471),(407,459),(433,463),(457,469),(487,463),(517,457),(537,463),(573,453),(593,447),(613,457),(627,463),(663,455),(687,457),(723,449),(741,457),(771,453),(797,453),(821,461),(843,453),(403,483),(427,495),(447,483),(467,497),(487,507),(533,487),(567,487),(603,483),(633,497),(647,483),(677,497),(697,497),(723,487),(749,487),(777,493),(797,483),(829,487),(479,537),(507,545),(527,523),(547,507),(567,517),(597,513),(631,517),(667,517),(697,537),(719,511),(743,527),(771,527),(787,517),(487,563),(517,567),(557,557),(603,553),(631,567),(649,553),(677,563),(711,547),(733,543),(751,535),(583,617),(663,627),(637,603),(677,613),(513,623),(483,597),(411,593),(377,613),(333,607),(293,547),(257,547),(223,537),(193,541),(153,547)]
b_blue_far = [(5556,753)]

a_centroids = [(1323,975),(1696,817)]
b_centroids = [(4426,1528),(4609,1465)]


def shift(pts, dx, dy):
    return [(x + dx, y + dy) for x, y in pts]


b_orange = shift(b_orange_left, 3300, 690) + shift(b_orange_right, 4200, 990)
b_blue = shift(b_blue_left, 3300, 690) + shift(b_blue_right, 4200, 990) + b_blue_far

BLUE = "78,121,167"
ORANGE = "242,142,43"
W, H = 2000, 800
fig = go.Figure()


def dots(pts, rgb, xa, ya):
    xs, ys = zip(*pts)
    fig.add_trace(go.Scatter(
        x=xs, y=ys, mode="markers", xaxis=xa, yaxis=ya, showlegend=False, hoverinfo="skip",
        marker=dict(size=5.8, color=f"rgba({rgb},0.45)", line=dict(color=f"rgba({rgb},0.45)", width=1.6)),
    ))


def centroid(pts, xa, ya):
    xs, ys = zip(*pts)
    fig.add_trace(go.Scatter(
        x=xs, y=ys, mode="lines+markers", xaxis=xa, yaxis=ya, showlegend=False, hoverinfo="skip",
        line=dict(color="black", width=4),
        marker=dict(size=21, color=["rgb(242,133,28)", "rgb(78,121,167)"], line=dict(color="black", width=1.8)),
    ))


dots(a_blue + a_blue_core, BLUE, "x", "y")
dots(a_orange + a_orange_core, ORANGE, "x", "y")
centroid(a_centroids, "x", "y")
dots(b_blue, BLUE, "x2", "y2")
dots(b_orange, ORANGE, "x2", "y2")
centroid(b_centroids, "x2", "y2")

axis = dict(showgrid=False, zeroline=False, showticklabels=False, ticks="", mirror=True,
            showline=True, linecolor="black", linewidth=2)
fig.update_layout(
    width=W, height=H, margin=dict(l=0, r=0, t=0, b=0), paper_bgcolor="white", plot_bgcolor="white",
    xaxis=dict(axis, domain=[12 / W, 993 / W], range=[36, 2979]),
    yaxis=dict(axis, domain=[(H - 787.3) / H, (H - 12) / H], range=[2362, 36]),
    xaxis2=dict(axis, domain=[1006 / W, 1987 / W], range=[3018, 5961]),
    yaxis2=dict(axis, domain=[(H - 787.3) / H, (H - 12) / H], range=[2362, 36], anchor="x2"),
    font=dict(family="DejaVu Sans", color="black"),
)
ann = []
for i, (xd, yd) in enumerate([("x domain", "y domain"), ("x2 domain", "y2 domain")]):
    ann.append(dict(text=panel_labels[i], xref=xd, yref=yd, x=0.0185, y=0.967, xanchor="left", yanchor="middle",
                    showarrow=False, font=dict(size=25), borderpad=0))
    ann.append(dict(text=dist_labels[i], xref=xd, yref=yd, x=0.0185, y=0.0285, xanchor="left", yanchor="middle",
                    showarrow=False, font=dict(size=22.2), borderpad=0))
fig.update_layout(annotations=ann)
fig.write_html("out.html", config={"displayModeBar": False},
               post_script="document.body.style.margin='0';document.body.style.overflow='hidden';")
